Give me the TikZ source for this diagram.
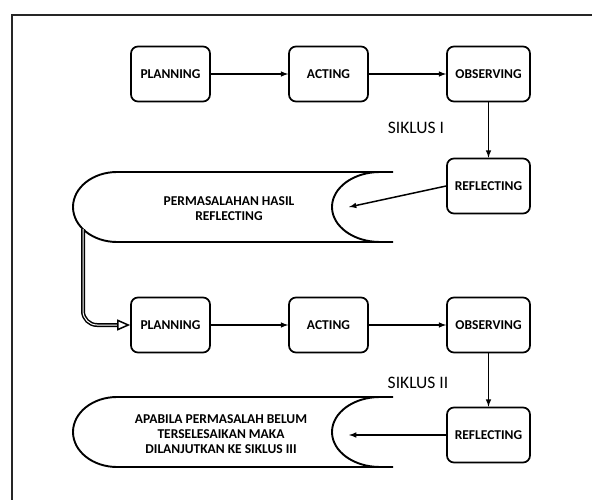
\documentclass[tikz,border=0pt]{standalone}
\usepackage{fontspec}
\setmainfont{Carlito}
\usetikzlibrary{positioning}
\usetikzlibrary{arrows.meta}
\usetikzlibrary{calc}

\begin{document}
\begin{tikzpicture}[x=1pt, y=-1pt, font=\fontsize{13.5}{15}\selectfont\bfseries,
  stage/.style={draw, rounded corners=7pt, line width=1.7pt, minimum height=55pt, align=center, inner sep=2pt},
  scroll line/.style={line width=1.9pt},
  text only/.style={inner sep=2pt, align=center}]
\useasboundingbox (0,0) rectangle (592,500);
% frame round the figure
\draw[line width=1.3pt, black!85] (12,510) -- (12,15) -- (600,15);
\coordinate (perm-out) at (83,229);
\foreach \c/\y/\ry/\top/\tip/\tx/\sx/\sy/\siklus/\msg in {
    1/74/186/172/207/229/416/128/I/{PERMASALAHAN HASIL\\REFLECTING},
    2/325/435/397/435/221/418/383/II/{APABILA PERMASALAH BELUM\\TERSELESAIKAN MAKA\\DILANJUTKAN KE SIKLUS III}} {
  \node[stage, minimum width=79pt]
    (plan-\c)
    at (170.5,\y)
    {PLANNING};
  \node[stage, minimum width=79pt]
    (act-\c)
    at (328.5,\y)
    {ACTING}
    edge[latex-, line width=1.5pt] (plan-\c);
  \node[stage, minimum width=83pt]
    (obs-\c)
    at (488.5,\y)
    {OBSERVING}
    edge[latex-, line width=1.5pt] (act-\c);
  \node[stage, minimum width=83pt]
    (refl-\c)
    at (488.5,\ry)
    {REFLECTING}
    edge[latex-, line width=1.5pt] (obs-\c);
  \node[text only, font=\fontsize{17.5}{20}\selectfont]
    (siklus-\c)
    at (\sx,\sy)
    {SIKLUS \siklus};
  % scroll with the result
  \draw[scroll line] (393,\top) -- (117,\top)
    arc[start angle=90, end angle=270, x radius=44pt, y radius=35pt] -- (393,\top+70);
  \draw[scroll line] (380,\top)
    arc[start angle=90, end angle=270, x radius=48pt, y radius=35pt];
  \node[text only]
    (perm-\c)
    at (\tx,\top+37)
    {\msg};
  \coordinate (tip-\c) at (349,\tip);
  \draw[-latex, line width=1.5pt] (refl-\c.west) -- (tip-\c);
}
\draw[line width=1.5pt, double, double distance=1pt, rounded corners=14pt,
  -{Triangle[open, length=13pt, width=11pt]}] (perm-out) |- (plan-2.west);
\end{tikzpicture}
\end{document}
